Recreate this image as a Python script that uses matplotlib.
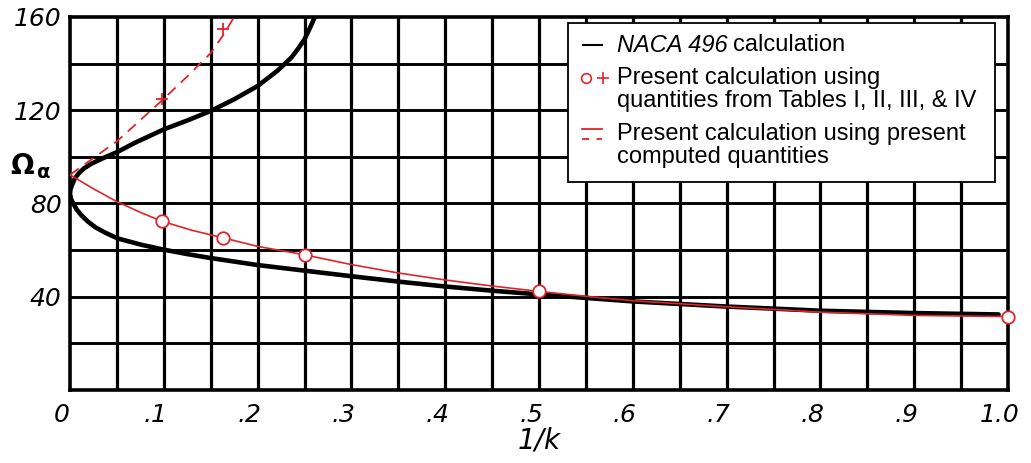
import numpy as np
import matplotlib
matplotlib.use('Agg')
import matplotlib.pyplot as plt
from matplotlib.transforms import ScaledTranslation
from matplotlib.patches import Rectangle

# NACA 496 curve (upper branch -> nose -> lower branch)
naca_x = [0.261, 0.256, 0.25, 0.243, 0.236, 0.221, 0.2, 0.175, 0.15, 0.125, 0.1, 0.069,
          0.051, 0.035, 0.023, 0.015, 0.009, 0.005, 0.002, 0.0005, 0.0, 0.001, 0.0035,
          0.007, 0.012, 0.019, 0.027, 0.038, 0.051, 0.076, 0.1, 0.125,
          0.15, 0.2, 0.25, 0.3, 0.35, 0.4, 0.45, 0.5, 0.6, 0.7, 0.8, 0.9, 0.99]
naca_y = [160, 155.5, 150.4, 146.3, 142.6, 136.9, 130.4, 124.7, 119.7, 115.6, 111.8, 106,
          102.2, 99.4, 97.1, 95.1, 92.8, 90.6, 87.8, 86, 84.2, 82, 80,
          77.5, 75, 72.3, 69.8, 67.4, 65, 62.3, 60.2, 58.3,
          56.6, 53.6, 51.2, 48.8, 46.5, 44.4, 42.6, 41, 38, 35.8, 34, 33, 32.4]

# present calculation, tables I-IV (circles) and its fair curve
circle_x = [0.098, 0.163, 0.25, 0.5, 1.0]
circle_y = [72.4, 65.3, 58, 42.3, 31.5]
fair_x = [0, 0.025, 0.05, 0.075, 0.098, 0.13, 0.163, 0.2, 0.25, 0.3, 0.35, 0.4, 0.45,
          0.5, 0.55, 0.6, 0.7, 0.8, 0.9, 1.0]
fair_y = [92.3, 86.3, 80.8, 76.2, 72.4, 68.5, 65.3, 61.6, 58, 53.8, 50.2, 47.2, 44.6,
          42.3, 40.2, 38.3, 35.7, 33.4, 32, 31.5]

# present calculation, computed quantities (crosses + dashed curve)
plus_x = [0.098, 0.163]
plus_y = [124.7, 154.7]
dash_x = [0, 0.051, 0.098, 0.125, 0.15, 0.163, 0.175]
dash_y = [92.3, 107, 124.2, 134.5, 144.5, 152, 160]

xtick_vals = [0, 0.1, 0.2, 0.3, 0.4, 0.5, 0.6, 0.7, 0.8, 0.9, 1.0]
xtick_labels = ['0', '.1', '.2', '.3', '.4', '.5', '.6', '.7', '.8', '.9', '1.0']
ytick_vals = [40, 80, 120, 160]
ytick_labels = ['40', '80', '120', '160']

W, H = 1031, 463
fig = plt.figure(figsize=(W / 100, H / 100), dpi=100)
ax = fig.add_axes([70 / W, 1 - 390 / H, (1008 - 70) / W, (390 - 17) / H])
ax.set_xlim(0, 1.0)
ax.set_ylim(0, 160)

# heavy graph-paper grid
for gx in np.arange(0.05, 1.0, 0.05):
    ax.axvline(gx, color='black', lw=2.3, zorder=1)
for gy in np.arange(20, 160, 20):
    ax.axhline(gy, color='black', lw=2.1, zorder=1)
for s in ax.spines.values():
    s.set_linewidth(2.6)

red = '#e0242a'
ax.plot(naca_x, naca_y, color='black', lw=3.3, solid_capstyle='round',
        solid_joinstyle='round', zorder=3)
ax.plot(fair_x, fair_y, color=red, lw=1.2, zorder=4)
ax.plot(dash_x, dash_y, color=red, lw=1.3, ls=(0, (6, 4)), zorder=4)
ax.plot(circle_x, circle_y, 'o', ms=9, mfc='white', mec=red, mew=1.3,
        zorder=5, clip_on=False)
ax.plot(plus_x, plus_y, '+', ms=8, mec=red, mew=1.3, zorder=5)

ax.set_xticks(xtick_vals)
ax.set_xticklabels(xtick_labels)
ax.set_yticks(ytick_vals)
ax.set_yticklabels(ytick_labels)
ax.tick_params(axis='x', length=0, labelsize=18, pad=9)
ax.tick_params(axis='y', length=0, labelsize=18, pad=6)
for lbl in ax.get_xticklabels() + ax.get_yticklabels():
    lbl.set_fontstyle('italic')
for lbl in ax.get_xticklabels():
    lbl.set_transform(lbl.get_transform() + ScaledTranslation(-0.08, 0, fig.dpi_scale_trans))
ax.set_xlabel('1/k', fontsize=20, fontstyle='italic', labelpad=0)

# overlay in pixel coordinates for the Omega label and the legend
ov = fig.add_axes([0, 0, 1, 1])
ov.set_xlim(0, W)
ov.set_ylim(H, 0)
ov.set_axis_off()
ov.text(10, 166, 'Ω', fontsize=20, fontweight='bold', va='center', ha='left')
ov.text(37, 173, 'α', fontsize=14, fontweight='bold', va='center', ha='left')

ov.add_patch(Rectangle((568, 23), 427, 159, facecolor='white', edgecolor='black', lw=1.3, zorder=6))
tkw = dict(fontsize=17, family='Liberation Sans', va='center', ha='left', zorder=7)
t1 = ov.text(617, 45, 'NACA 496', fontstyle='italic', **tkw)
fig.canvas.draw()
bb = t1.get_window_extent(fig.canvas.get_renderer())
ov.text(bb.x1 + 5, 45, 'calculation', **tkw)
ov.text(617, 78, 'Present calculation using', **tkw)
ov.text(617, 101, 'quantities from Tables I, II, III, & IV', **tkw)
ov.text(617, 134, 'Present calculation using present', **tkw)
ov.text(617, 157, 'computed quantities', **tkw)
ov.plot([583, 602], [45, 45], color='black', lw=1.5, zorder=7)
ov.plot([586], [78], 'o', ms=7, mfc='white', mec=red, mew=1.2, zorder=7)
ov.plot([603], [78], '+', ms=8, mec=red, mew=1.2, zorder=7)
ov.plot([582, 602], [129, 129], color=red, lw=1.3, zorder=7)
ov.plot([582, 602], [139, 139], color=red, lw=1.3, ls=(0, (4, 4)), zorder=7)

fig.savefig('out.png', dpi=100)
